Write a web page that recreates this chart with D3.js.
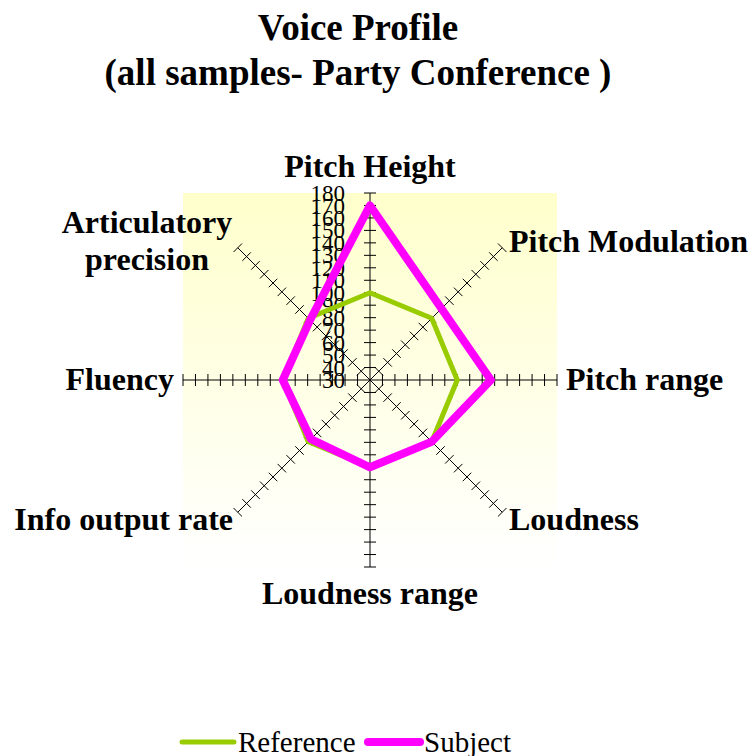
<!DOCTYPE html>
<html>
<head>
<meta charset="utf-8">
<script src="https://cdn.jsdelivr.net/npm/d3@7"></script>
<style>
  html, body { margin: 0; padding: 0; background: #ffffff; }
  svg { display: block; }
  text { font-family: "Liberation Serif", "Times New Roman", serif; fill: #000; }
</style>
</head>
<body>
<svg id="chart" width="749" height="756"></svg>
<script>
// Voice profile radar: eight voice attributes, reference vs subject.
const categories = [
  "Pitch Height", "Pitch Modulation", "Pitch range", "Loudness",
  "Loudness range", "Info output rate", "Fluency", "Articulatory precision"
];
const referenceValues = [100, 100, 100, 100, 100, 100, 100, 100];
const subjectValues   = [170, 111, 127, 100, 100, 97, 100, 98];
const tickValues = [30, 40, 50, 60, 70, 80, 90, 100, 110, 120, 130, 140, 150, 160, 170, 180];
const seriesNames = ["Reference", "Subject"];
const seriesColors = ["#99CC00", "#FF00FF"];

const svg = d3.select("#chart");
const cx = 370, cy = 380, R = 187;

const r = d3.scaleLinear().domain([30, 180]).range([0, R]);
const angle = d3.scaleLinear().domain([0, categories.length]).range([0, 2 * Math.PI]);

const px = (i, v) => cx + r(v) * Math.sin(angle(i));
const py = (i, v) => cy - r(v) * Math.cos(angle(i));

// Plot area background: pale yellow fading to white
const defs = svg.append("defs");
const grad = defs.append("linearGradient")
  .attr("id", "plotBg").attr("x1", 0).attr("y1", 0).attr("x2", 0).attr("y2", 1);
grad.append("stop").attr("offset", "0%").attr("stop-color", "#FFFFCC");
grad.append("stop").attr("offset", "100%").attr("stop-color", "#FFFFFF");

svg.append("rect")
  .attr("x", cx - R).attr("y", cy - R)
  .attr("width", 2 * R).attr("height", 2 * R)
  .attr("fill", "url(#plotBg)");

// Title
svg.append("text").attr("x", 358).attr("y", 40)
  .attr("text-anchor", "middle").attr("font-size", 37).attr("font-weight", "bold")
  .text("Voice Profile");
svg.append("text").attr("x", 358).attr("y", 85)
  .attr("text-anchor", "middle").attr("font-size", 37).attr("font-weight", "bold")
  .text("(all samples- Party Conference )");

// Spokes with perpendicular tick marks
const axisG = svg.append("g");
const tickLevels = tickValues.slice(1);
categories.forEach((c, i) => {
  axisG.append("line")
    .attr("x1", cx).attr("y1", cy)
    .attr("x2", px(i, 180)).attr("y2", py(i, 180))
    .attr("stroke", "#000").attr("stroke-width", 1);
  const a = angle(i);
  const nx = Math.cos(a), ny = Math.sin(a); // perpendicular direction
  tickLevels.forEach(v => {
    const x = px(i, v), y = py(i, v);
    axisG.append("line")
      .attr("x1", x - 6 * nx).attr("y1", y - 6 * ny)
      .attr("x2", x + 6 * nx).attr("y2", y + 6 * ny)
      .attr("stroke", "#000").attr("stroke-width", 1);
  });
});

// Value labels along the vertical spoke
svg.append("g").selectAll("text").data(tickValues).join("text")
  .attr("x", cx - 25)
  .attr("y", d => cy - r(d))
  .attr("dy", "0.35em")
  .attr("text-anchor", "end")
  .attr("font-size", 23)
  .text(d => d);

// Series polygons
const line = d3.line()
  .x((d, i) => px(i, d))
  .y((d, i) => py(i, d))
  .curve(d3.curveLinearClosed);

svg.append("path").datum(referenceValues)
  .attr("d", line).attr("fill", "none")
  .attr("stroke", seriesColors[0]).attr("stroke-width", 5)
  .attr("stroke-linejoin", "round");
svg.append("path").datum(subjectValues)
  .attr("d", line).attr("fill", "none")
  .attr("stroke", seriesColors[1]).attr("stroke-width", 8)
  .attr("stroke-linejoin", "round");

// Category labels
const labelLayout = [
  { x: 370, y: 177, anchor: "middle" },
  { x: 509, y: 252, anchor: "start" },
  { x: 566, y: 390, anchor: "start" },
  { x: 509, y: 530, anchor: "start" },
  { x: 370, y: 604, anchor: "middle" },
  { x: 233, y: 530, anchor: "end" },
  { x: 174, y: 390, anchor: "end" },
  { x: 147, y: 233, anchor: "middle" }
];
categories.forEach((c, i) => {
  const L = labelLayout[i];
  const t = svg.append("text")
    .attr("x", L.x).attr("y", L.y)
    .attr("text-anchor", L.anchor)
    .attr("font-size", 32).attr("font-weight", "bold");
  const words = c === "Articulatory precision" ? ["Articulatory", "precision"] : [c];
  words.forEach((w, k) => {
    t.append("tspan").attr("x", L.x).attr("dy", k === 0 ? 0 : 37).text(w);
  });
});

// Legend
const legend = svg.append("g");
const legendItems = [
  { x: 182, w: 5 },
  { x: 368, w: 8 }
];
seriesNames.forEach((name, i) => {
  const it = legendItems[i];
  legend.append("line")
    .attr("x1", it.x).attr("y1", 742).attr("x2", it.x + 52).attr("y2", 742)
    .attr("stroke", seriesColors[i]).attr("stroke-width", it.w)
    .attr("stroke-linecap", "round");
  legend.append("text")
    .attr("x", it.x + 56).attr("y", 752)
    .attr("font-size", 29)
    .text(name);
});
</script>
</body>
</html>
